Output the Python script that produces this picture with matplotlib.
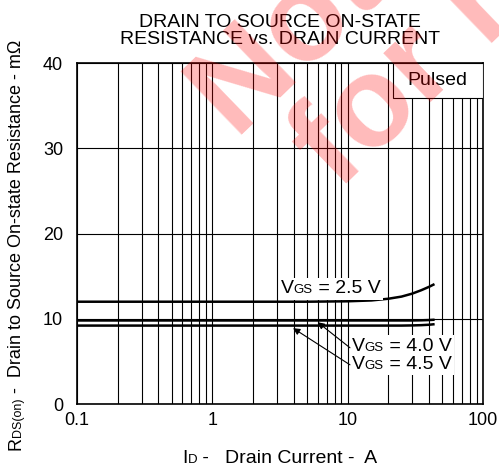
import numpy as np
import matplotlib
matplotlib.use('Agg')
import matplotlib.pyplot as plt
from matplotlib.patches import Rectangle
from matplotlib.ticker import FixedLocator, NullFormatter
from matplotlib.offsetbox import TextArea, HPacker, AnnotationBbox

plt.rcParams['font.family'] = ['Liberation Sans', 'DejaVu Sans']

# Данные
i_d = [0.1, 0.2, 0.5, 1, 2, 5, 10, 15, 20, 25, 30, 35, 40, 43]
r_25 = [12.0, 12.0, 12.0, 12.0, 12.0, 12.0, 12.05, 12.15, 12.35, 12.6, 12.95, 13.35, 13.75, 14.0]
r_40 = [9.8, 9.8, 9.8, 9.8, 9.8, 9.8, 9.8, 9.8, 9.8, 9.8, 9.8, 9.82, 9.85, 9.88]
r_45 = [9.2, 9.2, 9.2, 9.2, 9.2, 9.2, 9.2, 9.2, 9.2, 9.2, 9.22, 9.25, 9.3, 9.35]

x_ticks = [0.1, 1, 10, 100]
x_labels = ['0.1', '1', '10', '100']
y_ticks = [0, 10, 20, 30, 40]

W, H = 499, 466
fig = plt.figure(figsize=(W / 100, H / 100), dpi=100)
ax = fig.add_axes([0.1543, 0.1330, 0.8136, 0.7318])
ax.set_facecolor('none')
renderer = fig.canvas.get_renderer()


def text_width(s, size):  # ширина строки в пикселях (с учетом пробелов)
    t1 = fig.text(0, 0, s + '|', fontsize=size)
    t2 = fig.text(0, 0, '|', fontsize=size)
    w = t1.get_window_extent(renderer).width - t2.get_window_extent(renderer).width
    t1.remove()
    t2.remove()
    return w


def put_parts(cx, cy, parts, rotation=0):  # текст с индексами на базовой линии, центр по (cx, cy) в пикселях
    widths = [text_width(s, size) for s, size in parts]
    a = np.radians(rotation)
    d = np.array([np.cos(a), np.sin(a)])
    pos = np.array([cx, cy]) - d * sum(widths) / 2
    for (s, size), w in zip(parts, widths):
        fig.text(pos[0] / W, pos[1] / H, s, fontsize=size, rotation=rotation,
                 rotation_mode='anchor', ha='left', va='baseline')
        pos = pos + d * w


# водяной знак
fig.text(236 / W, 1 - 140 / H, 'Not recommended', fontsize=92, fontweight='bold', color='red',
         alpha=0.27, rotation=44, rotation_mode='anchor', ha='left', va='baseline', zorder=0)
fig.text(338 / W, 1 - 192 / H, 'for new design', fontsize=92, fontweight='bold', color='red',
         alpha=0.27, rotation=44, rotation_mode='anchor', ha='left', va='baseline', zorder=0)

ax.set_xscale('log')
ax.set_xlim(0.1, 100)
ax.set_ylim(0, 40)
ax.xaxis.set_major_locator(FixedLocator(x_ticks))
ax.set_xticklabels(x_labels)
minor = [m * 10.0 ** e for e in (-1, 0, 1) for m in range(2, 10)]
ax.xaxis.set_minor_locator(FixedLocator(minor))
ax.xaxis.set_minor_formatter(NullFormatter())
ax.set_yticks(y_ticks)
ax.tick_params(which='both', length=0)
ax.tick_params(axis='x', pad=6, labelsize=13)
ax.tick_params(axis='y', pad=10, labelsize=13)
ax.grid(True, which='both', axis='x', color='black', lw=0.8)
ax.grid(True, which='major', axis='y', color='black', lw=0.8)
ax.set_axisbelow(True)
for s in ax.spines.values():
    s.set_linewidth(1.2)

ax.plot(i_d, r_25, color='black', lw=1.8, zorder=3)
ax.plot(i_d, r_40, color='black', lw=1.8, zorder=3)
ax.plot(i_d, r_45, color='black', lw=1.8, zorder=3)


def vgs_label(x, y, value, align):
    parts = HPacker(children=[TextArea('V', textprops=dict(fontsize=14)),
                              TextArea('GS', textprops=dict(fontsize=9.5)),
                              TextArea(' = ' + value + ' V', textprops=dict(fontsize=14))],
                    align='baseline', pad=0, sep=0)
    ab = AnnotationBbox(parts, (x, y), xycoords='data', box_alignment=(align, 0.5), frameon=True,
                        pad=0.15, bboxprops=dict(facecolor='white', edgecolor='none'), zorder=4)
    ax.add_artist(ab)


vgs_label(7.5, 13.5, '2.5', 0.5)
vgs_label(10.7, 6.8, '4.0', 0.0)
vgs_label(10.7, 4.6, '4.5', 0.0)

arrow = dict(arrowstyle='-|>', color='black', lw=0.8, mutation_scale=10, shrinkA=0, shrinkB=0)
ax.annotate('', xy=(6.0, 9.6), xytext=(10.4, 6.6), arrowprops=arrow, zorder=5)
ax.annotate('', xy=(3.95, 8.9), xytext=(10.4, 4.6), arrowprops=arrow, zorder=5)

ax.add_patch(Rectangle((21.5, 35.9), 100 - 21.5, 4.1, facecolor='white', edgecolor='black',
                       lw=0.8, zorder=4))
ax.text(46, 37.9, 'Pulsed', fontsize=14, ha='center', va='center', zorder=5)

ax.set_title('DRAIN TO SOURCE ON-STATE\nRESISTANCE vs. DRAIN CURRENT', fontsize=14,
             linespacing=0.95, pad=14)

# подписи осей
put_parts(280, H - 463, [('I', 14), ('D', 9.5), (' -   Drain Current -  A', 14)])
put_parts(21, H - 245, [('R', 13), ('DS(on)', 9), (' -  Drain to Source On-state Resistance - mΩ', 13)],
          rotation=90)

fig.savefig('out.png', dpi=100)
